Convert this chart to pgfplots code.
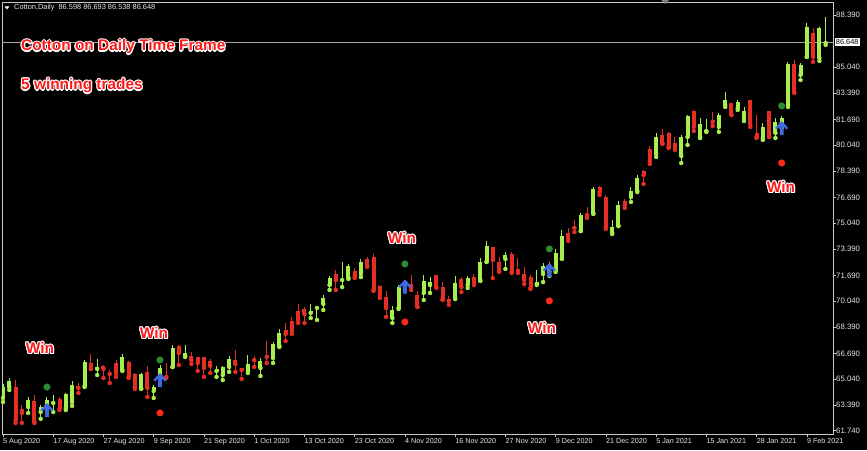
\documentclass[border=0pt]{standalone}
\usepackage{pgfplots}
\pgfplotsset{compat=1.18}
\usepackage{pgfplotstable}
\usepackage{fontspec}
\setmainfont{Liberation Sans}
\definecolor{bullc}{HTML}{A8EE4C}
\definecolor{bearc}{HTML}{E62E24}
\definecolor{arrowblue}{HTML}{4169E1}
\definecolor{dotgreen}{HTML}{2E8B2E}
\definecolor{dotred}{HTML}{FF2A1E}
\definecolor{axisgray}{HTML}{C8C8C8}
\definecolor{labc}{HTML}{E8E8E8}
\definecolor{winred}{HTML}{FF1A1A}

\pgfdeclareplotmark{sigarrow}{%
  \pgfpathmoveto{\pgfqpoint{0pt}{7.0pt}}%
  \pgfpathlineto{\pgfqpoint{6.6pt}{0.2pt}}%
  \pgfpathlineto{\pgfqpoint{4.7pt}{-1.5pt}}%
  \pgfpathlineto{\pgfqpoint{1.9pt}{1.6pt}}%
  \pgfpathlineto{\pgfqpoint{1.9pt}{-7.0pt}}%
  \pgfpathlineto{\pgfqpoint{-1.9pt}{-7.0pt}}%
  \pgfpathlineto{\pgfqpoint{-1.9pt}{1.6pt}}%
  \pgfpathlineto{\pgfqpoint{-4.7pt}{-1.5pt}}%
  \pgfpathlineto{\pgfqpoint{-6.6pt}{0.2pt}}%
  \pgfpathclose
  \pgfusepathqfill
}

\pgfplotstableread{
x o h l c
0 63.84 64.73 63.58 64.54
1 64.54 65.12 64.35 64.93
4 63.26 63.90 62.88 63.71
6 62.94 63.39 62.50 63.26
7 63.39 63.90 63.07 63.71
8 63.52 64.03 62.94 63.58
10 63.20 64.16 63.07 64.10
11 63.58 64.93 63.33 64.67
13 64.61 66.27 64.54 66.15
15 65.70 66.34 65.31 65.83
19 65.64 66.66 65.57 66.47
22 64.48 65.44 64.42 65.38
24 64.29 64.67 63.84 64.54
25 65.25 65.95 64.99 65.76
27 65.83 67.24 65.83 67.04
29 66.53 67.24 66.47 66.72
34 65.57 65.89 65.19 65.70
35 65.31 65.89 64.99 65.83
36 65.83 66.53 65.51 66.34
39 65.57 66.60 65.44 66.02
41 65.76 66.40 65.25 66.21
43 66.40 67.43 66.08 67.30
44 67.17 68.26 67.11 68.01
49 69.29 69.86 68.97 69.42
50 69.61 69.67 68.84 69.67
51 69.86 70.44 69.48 70.25
52 71.08 71.66 70.76 71.53
54 71.40 72.56 70.95 71.47
55 71.53 72.43 71.47 72.30
57 71.79 72.75 71.59 72.56
62 68.97 69.74 68.65 69.48
63 69.61 71.08 69.54 70.95
64 70.95 71.40 70.76 71.21
67 70.57 71.72 70.12 71.34
68 71.08 71.59 70.57 71.27
72 70.25 71.66 70.18 71.21
74 71.08 71.66 70.89 71.53
76 71.40 72.81 71.34 72.56
77 72.56 73.90 72.56 73.58
80 72.75 73.20 72.11 73.01
85 71.14 72.04 71.08 71.27
86 71.79 72.49 71.27 72.30
87 71.92 72.56 71.66 72.36
88 72.04 73.39 71.92 73.13
89 72.81 74.61 72.75 74.22
92 74.54 75.69 74.54 75.57
94 75.69 77.36 75.63 77.24
97 74.42 75.25 74.35 74.80
98 74.86 76.47 74.86 76.21
100 76.72 77.36 76.40 77.11
101 77.11 78.13 77.04 77.94
104 79.48 80.83 79.29 80.57
108 79.35 80.70 78.90 80.57
109 80.57 81.98 80.06 81.92
111 80.57 81.79 80.50 81.40
112 80.95 81.72 80.89 81.02
114 81.21 82.11 80.89 81.98
115 82.62 83.45 82.49 82.94
117 82.43 82.94 82.30 82.81
118 81.72 82.49 81.59 82.24
121 80.50 81.47 80.38 81.21
123 80.83 81.79 80.50 81.53
124 81.47 81.92 81.14 81.79
125 82.62 85.38 82.49 85.25
127 84.54 85.31 84.22 85.18
128 85.70 87.88 85.70 87.62
130 85.63 87.62 85.44 87.56
131 86.60 88.26 86.47 86.65
}\bulltab

\pgfplotstableread{
x o h l c
2 64.54 64.99 62.24 62.43
3 63.13 63.39 62.24 62.88
5 63.65 64.03 62.24 62.31
9 63.78 63.90 63.07 63.13
12 64.61 64.80 64.16 64.48
14 66.08 66.66 65.70 65.70
16 65.89 65.95 65.12 65.70
17 65.44 65.64 64.80 65.38
18 66.08 66.27 65.19 65.44
20 66.15 66.21 65.12 65.19
21 65.38 65.44 64.42 64.54
23 65.51 65.89 63.90 64.48
26 65.25 66.08 65.12 65.19
28 67.17 67.24 65.95 66.72
30 66.53 66.79 66.02 66.27
31 66.47 66.47 65.57 66.08
32 66.47 66.47 65.19 65.76
33 66.21 66.34 65.44 65.89
37 66.27 66.92 65.51 66.02
38 65.76 65.76 65.06 65.64
40 66.34 66.53 65.83 66.27
42 66.60 67.49 66.08 66.47
45 68.20 68.65 67.49 67.94
46 68.77 69.03 67.94 68.13
47 69.42 69.86 68.65 68.84
48 69.54 69.67 68.65 69.22
53 71.79 72.04 70.76 71.40
56 71.98 72.17 71.53 71.66
58 72.75 72.88 72.24 72.36
59 72.88 73.07 70.70 70.76
60 71.02 71.08 70.25 70.44
61 70.31 70.70 69.03 69.61
65 71.14 71.72 70.76 70.95
66 70.44 70.70 69.67 69.67
69 71.72 71.72 70.89 70.95
70 70.95 71.27 70.12 70.18
71 70.18 70.38 69.80 70.06
73 71.47 71.59 70.63 70.95
75 71.59 71.79 71.08 71.27
78 73.52 73.52 71.53 72.68
79 72.56 72.88 71.92 71.98
81 73.07 73.20 71.85 71.92
82 72.11 72.81 71.85 71.92
83 71.79 72.24 71.14 71.40
84 71.59 71.72 70.83 70.89
90 74.42 74.74 73.90 74.03
91 74.80 75.25 74.48 74.74
93 75.63 76.08 75.38 75.57
95 77.36 77.43 76.85 77.04
96 76.72 76.85 74.67 74.74
99 76.47 76.59 76.02 76.21
102 78.39 78.45 77.56 78.13
103 79.80 79.99 78.84 79.03
105 80.70 81.08 80.12 80.18
106 80.83 80.89 79.86 79.93
107 80.18 80.57 79.74 79.93
110 82.24 82.30 80.95 81.21
113 81.66 82.17 81.27 81.53
116 82.75 82.75 81.98 81.98
119 82.94 82.94 81.21 81.40
120 80.83 81.98 80.50 80.57
122 82.24 82.24 80.57 80.57
126 85.25 85.51 83.39 83.45
129 87.24 87.56 85.38 85.70
}\beartab

\newcommand{\bigfont}{\fontsize{15.4}{18}\selectfont\bfseries}
\newcommand{\glowtext}[3]{%
  \foreach \a in {0,30,...,330} {\node[anchor=#2, text=white, font=\bigfont, inner sep=0pt] at ([shift={(\a:1.1pt)}]#1) {#3};}
  \node[anchor=#2, text=winred, font=\bigfont, inner sep=0pt] at (#1) {#3};
}

\begin{document}
\begin{tikzpicture}
\path[use as bounding box, fill=black] (0,0) rectangle (867pt,450pt);
\begin{axis}[
  at={(2pt,16pt)}, anchor=south west,
  scale only axis, width=831pt, height=432pt,
  xmin=-0.16, xmax=132.17, ymin=61.53, ymax=89.22,
  axis line style={draw=axisgray, line width=0.8pt},
  tick style={draw=axisgray, line width=0.6pt},
  tick align=outside, major tick length=3pt,
  ytick pos=right, yticklabel pos=right,
  xtick pos=bottom,
  ytick={61.74,63.39,65.04,66.69,68.39,70.04,71.69,73.39,75.04,76.69,78.39,80.04,81.69,83.39,85.04,88.39},
  yticklabels={61.740,63.390,65.040,66.690,68.390,70.040,71.690,73.390,75.040,76.690,78.390,80.040,81.690,83.390,85.040,88.390},
  yticklabel style={font=\fontsize{7.8}{9}\selectfont, text=labc, anchor=west, inner sep=0pt, xshift=0pt},
  xtick={0,8,...,128},
  xticklabels={5 Aug 2020,17 Aug 2020,27 Aug 2020,9 Sep 2020,21 Sep 2020,1 Oct 2020,13 Oct 2020,23 Oct 2020,4 Nov 2020,16 Nov 2020,27 Nov 2020,9 Dec 2020,21 Dec 2020,5 Jan 2021,15 Jan 2021,28 Jan 2021,9 Feb 2021},
  xticklabel style={font=\fontsize{7.2}{8.5}\selectfont, text=labc, anchor=north west, inner sep=0pt, yshift=-1.2pt},
]
% current price line
\addplot[draw=gray!70, line width=0.8pt, forget plot] coordinates {(-1,86.648) (133,86.648)};
% wicks
\addplot[bullc, only marks, mark=none, forget plot,
  error bars/.cd, y dir=plus, y explicit, error mark=none,
  error bar style={draw=bullc, line width=1pt}]
  table[x=x, y=l, y error plus expr=\thisrow{h}-\thisrow{l}] {\bulltab};
\addplot[bearc, only marks, mark=none, forget plot,
  error bars/.cd, y dir=plus, y explicit, error mark=none,
  error bar style={draw=bearc, line width=1pt}]
  table[x=x, y=l, y error plus expr=\thisrow{h}-\thisrow{l}] {\beartab};
% bodies
\addplot[bullc, only marks, mark=none, forget plot,
  error bars/.cd, y dir=plus, y explicit, error mark=none,
  error bar style={draw=bullc, line width=4pt}]
  table[x=x, y=o, y error plus expr=\thisrow{c}-\thisrow{o}] {\bulltab};
\addplot[bearc, only marks, mark=none, forget plot,
  error bars/.cd, y dir=plus, y explicit, error mark=none,
  error bar style={draw=bearc, line width=4pt}]
  table[x=x, y=c, y error plus expr=\thisrow{o}-\thisrow{c}] {\beartab};
% signals
\addplot[only marks, mark=*, mark size=3.3pt, color=dotgreen, forget plot]
  coordinates {(7,64.54) (25,66.27) (64,72.43) (87,73.39) (124,82.56)};
\addplot[only marks, mark=*, mark size=3.3pt, color=dotred, forget plot]
  coordinates {(25,62.88) (64,68.71) (87,70.06) (124,78.90)};
\addplot[only marks, mark=sigarrow, color=arrowblue, mark options={fill=arrowblue, draw=none}, forget plot]
  coordinates {(7,63.06) (25,64.99) (64,70.98) (87,72.04) (124,81.14)};
\coordinate (pricebox) at (axis cs:132.17,86.648);
\end{axis}
% price box
\node[fill=white, text=black, font=\fontsize{7.4}{8.5}\selectfont, inner xsep=1.2pt, inner ysep=1.5pt, anchor=west] at ([xshift=1.5pt]pricebox) {86.648};
% header
\fill[white] (4.5pt,443.6pt) -- (9.5pt,443.6pt) -- (7pt,440.6pt) -- cycle;
\node[anchor=west, inner sep=0pt, text=labc, font=\fontsize{7.4}{8.5}\selectfont] at (14pt,442pt) {Cotton,Daily\ \ 86.598 86.693 86.538 86.648};
\fill[gray] (661pt,450pt) -- (669pt,450pt) -- (665pt,446pt) -- cycle;
% texts
\coordinate (t1) at (21pt,403pt);
\coordinate (t2) at (21pt,364pt);
\glowtext{t1}{west}{Cotton on Daily Time Frame}
\glowtext{t2}{west}{5 winning trades}
\coordinate (w1) at (40pt,102pt);
\coordinate (w2) at (154pt,117pt);
\coordinate (w3) at (402pt,212pt);
\coordinate (w4) at (542pt,122pt);
\coordinate (w5) at (781pt,263pt);
\glowtext{w1}{center}{Win}
\glowtext{w2}{center}{Win}
\glowtext{w3}{center}{Win}
\glowtext{w4}{center}{Win}
\glowtext{w5}{center}{Win}
\end{tikzpicture}
\end{document}
